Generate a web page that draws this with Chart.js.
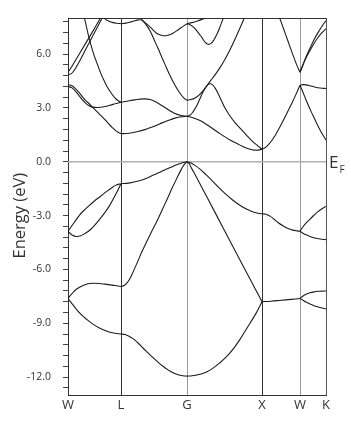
<!DOCTYPE html>
<html>
<head>
<meta charset="utf-8">
<script src="https://cdn.jsdelivr.net/npm/chart.js@4.4.1/dist/chart.umd.min.js"></script>
<style>
  html, body { margin: 0; padding: 0; background: #fff; }
  #wrap { width: 351px; height: 423px; }
</style>
</head>
<body>
<div id="wrap"><canvas id="bandChart" width="351" height="423"></canvas></div>
<script>
// k-path (high symmetry points) and their positions along the path
var kLabels = ["W", "L", "G", "X", "W", "K"];
var kPos = [0, 53, 119, 194, 232, 258];
var yLabelValues = [-12, -9, -6, -3, 0, 3, 6];

// bands, one array per segment of the path: [k, energy (eV)]
// W -> L
var wl_v1 = [[0,-7.62],[6,-8.05],[12,-8.45],[19,-8.8],[25,-9.05],[31,-9.25],[37,-9.4],[42,-9.5],[47,-9.56],[53,-9.6]];
var wl_v2 = [[0,-7.62],[4,-7.35],[8,-7.12],[14,-6.92],[20,-6.8],[25,-6.77],[31,-6.78],[37,-6.82],[47,-6.9],[53,-6.95]];
var wl_v3 = [[0,-3.87],[4,-4.08],[8,-4.16],[12,-4.14],[17,-4.0],[22,-3.8],[27,-3.52],[32,-3.18],[37,-2.82],[42,-2.4],[48,-1.78],[53,-1.22]];
var wl_v4 = [[0,-3.87],[6,-3.4],[12,-2.94],[17,-2.65],[22,-2.4],[27,-2.16],[32,-1.95],[37,-1.72],[42,-1.52],[48,-1.3],[53,-1.22]];
var wl_c1 = [[0,4.3],[4,4.24],[8,4.05],[12,3.8],[17,3.45],[21,3.25],[25,3.02],[29,2.8],[34,2.52],[39,2.22],[44,1.92],[49,1.68],[53,1.57]];
var wl_c2 = [[0,4.2],[4,4.12],[8,3.9],[12,3.62],[17,3.3],[21,3.13],[25,3.05],[30,3.03],[36,3.07],[42,3.15],[48,3.25],[53,3.32]];
var wl_c3 = [[15,8.3],[17,7.88],[20,7.15],[23,6.5],[26,5.95],[29,5.5],[32,5.05],[35,4.65],[39,4.2],[43,3.85],[48,3.5],[53,3.32]];
var wl_c4 = [[0,4.99],[4,5.33],[8,5.7],[16,6.45],[24,7.2],[32,7.97],[35,8.25]];
var wl_c5 = [[0,4.87],[3,4.9],[6,5.08],[10,5.45],[18,6.3],[26,7.15],[34,8.0],[37,8.3]];
var wl_c6 = [[33,8.3],[37,7.97],[41,7.84],[45,7.76],[49,7.72],[53,7.7]];
// L -> G
var lg_v1 = [[53,-9.6],[57,-9.63],[61,-9.72],[65,-9.86],[70,-10.1],[75,-10.38],[80,-10.65],[85,-10.92],[90,-11.17],[95,-11.4],[100,-11.6],[105,-11.76],[110,-11.87],[115,-11.93],[119,-11.95]];
var lg_v2 = [[53,-6.95],[56,-6.9],[59,-6.75],[62,-6.5],[65,-6.15],[69,-5.65],[74,-5.0],[79,-4.42],[84,-3.85],[89,-3.3],[94,-2.7],[99,-2.1],[104,-1.48],[109,-0.9],[113,-0.45],[116,-0.17],[119,0]];
var lg_v3 = [[53,-1.22],[58,-1.2],[63,-1.16],[68,-1.1],[73,-1.03],[78,-0.93],[83,-0.8],[88,-0.68],[93,-0.55],[98,-0.42],[103,-0.3],[108,-0.18],[113,-0.08],[119,0]];
var lg_c1 = [[53,1.57],[58,1.58],[64,1.62],[70,1.69],[76,1.78],[82,1.9],[88,2.03],[94,2.17],[100,2.3],[106,2.42],[112,2.5],[119,2.54]];
var lg_c2 = [[53,3.32],[59,3.38],[65,3.44],[71,3.49],[77,3.51],[82,3.47],[87,3.36],[92,3.2],[97,3.03],[102,2.85],[107,2.69],[113,2.58],[119,2.54]];
var lg_c3 = [[53,7.7],[58,7.73],[63,7.8],[68,7.88],[72,7.92],[75,7.85],[78,7.65],[82,7.3],[87,6.7],[92,6.07],[97,5.43],[102,4.81],[107,4.27],[112,3.82],[116,3.55],[119,3.43]];
var lg_c4 = [[72,8.3],[74,7.92],[78,7.72],[82,7.52],[86,7.3],[90,7.12],[95,7.03],[100,7.06],[105,7.17],[110,7.35],[115,7.55],[119,7.7]];
// G -> X
var gx_v1 = [[119,-11.95],[124,-11.93],[129,-11.88],[134,-11.81],[139,-11.7],[145,-11.5],[152,-11.2],[157,-10.95],[162,-10.65],[167,-10.3],[172,-9.9],[177,-9.45],[182,-9.0],[188,-8.45],[194,-7.8]];
var gx_v2 = [[119,0],[121,-0.08],[123,-0.3],[126,-0.6],[133,-1.34],[140,-2.08],[150,-3.14],[160,-4.2],[170,-5.26],[180,-6.32],[187,-7.06],[194,-7.8]];
var gx_v3 = [[119,0],[123,-0.07],[127,-0.2],[132,-0.41],[138,-0.72],[145,-1.1],[152,-1.5],[158,-1.82],[164,-2.1],[170,-2.35],[176,-2.56],[182,-2.72],[188,-2.84],[194,-2.9]];
var gx_c1 = [[119,2.54],[125,2.46],[132,2.3],[137,2.14],[142,1.95],[147,1.76],[152,1.57],[157,1.39],[162,1.22],[167,1.07],[172,0.93],[177,0.8],[182,0.7],[186,0.65],[190,0.65],[194,0.7]];
var gx_c2 = [[119,2.54],[122,2.6],[125,2.78],[128,3.05],[131,3.4],[134,3.78],[137,4.1],[140,4.3],[142,4.35],[144,4.32],[147,4.12],[150,3.82],[153,3.46],[157,3.0],[162,2.55],[167,2.18],[172,1.88],[178,1.52],[184,1.17],[189,0.93],[194,0.7]];
var gx_c3 = [[119,3.43],[123,3.47],[127,3.56],[131,3.72],[135,3.95],[139,4.25],[143,4.55],[147,4.85],[152,5.25],[157,5.72],[162,6.25],[168,6.96],[175,7.85],[178,8.3]];
var gx_c4 = [[119,7.7],[124,7.76],[129,7.84],[134,7.94],[138,8.05],[142,8.2]];
var gx_c5 = [[119,7.7],[122,7.64],[126,7.48],[130,7.22],[134,6.92],[137,6.68],[140,6.55],[143,6.6],[146,6.8],[149,7.12],[152,7.52],[155,7.97],[157,8.3]];
// X -> W
var xw_v1 = [[194,-7.8],[203,-7.77],[213,-7.72],[223,-7.67],[232,-7.62]];
var xw_v3 = [[194,-2.9],[198,-2.92],[202,-3.03],[206,-3.2],[210,-3.38],[215,-3.57],[220,-3.72],[225,-3.81],[229,-3.85],[232,-3.87]];
var xw_c1 = [[194,0.7],[197,0.78],[200,0.93],[204,1.2],[208,1.55],[212,1.95],[216,2.38],[220,2.83],[224,3.28],[228,3.76],[232,4.27]];
var xw_c3 = [[210,8.3],[212,7.97],[216,7.35],[220,6.72],[224,6.1],[228,5.5],[232,4.99]];
// W -> K
var wk_v1 = [[232,-7.62],[235,-7.72],[238,-7.82],[242,-7.93],[246,-8.02],[250,-8.09],[254,-8.15],[258,-8.2]];
var wk_v2 = [[232,-7.62],[235,-7.48],[238,-7.38],[242,-7.3],[246,-7.25],[250,-7.22],[254,-7.21],[258,-7.2]];
var wk_v3 = [[232,-3.87],[235,-3.98],[238,-4.07],[242,-4.16],[246,-4.23],[250,-4.28],[254,-4.32],[258,-4.34]];
var wk_v4 = [[232,-3.87],[235,-3.62],[238,-3.42],[242,-3.2],[246,-2.98],[250,-2.78],[254,-2.62],[258,-2.49]];
var wk_c1 = [[232,4.27],[236,3.73],[240,3.19],[244,2.7],[249,2.11],[253,1.68],[258,1.21]];
var wk_c2 = [[232,4.27],[235,4.3],[238,4.29],[242,4.24],[246,4.18],[250,4.13],[254,4.1],[258,4.09]];
var wk_c3 = [[232,4.99],[235,5.42],[238,5.84],[242,6.33],[246,6.8],[250,7.2],[254,7.56],[258,7.88]];
var wk_c4 = [[232,4.99],[235,5.4],[238,5.78],[242,6.2],[246,6.6],[250,6.93],[254,7.2],[258,7.43]];

var fermiLevel = 0;
var yTitle = "Energy (eV)";

var segments = [
	wl_v1, wl_v2, wl_v3, wl_v4, wl_c1, wl_c2, wl_c3, wl_c4, wl_c5, wl_c6,
	lg_v1, lg_v2, lg_v3, lg_c1, lg_c2, lg_c3, lg_c4,
	gx_v1, gx_v2, gx_v3, gx_c1, gx_c2, gx_c3, gx_c4, gx_c5,
	xw_v1, xw_v3, xw_c1, xw_c3,
	wk_v1, wk_v2, wk_v3, wk_v4, wk_c1, wk_c2, wk_c3, wk_c4
];

Chart.defaults.font.family = "'Open Sans', 'DejaVu Sans', sans-serif";
Chart.defaults.color = "#333";

function toPoints(seg) {
	return seg.map(function (p) {
		return { x: p[0], y: p[1] };
	});
}

var datasets = [];

// Fermi level line
datasets.push({
	data: [{ x: kPos[0], y: fermiLevel }, { x: kPos[kPos.length - 1], y: fermiLevel }],
	borderColor: "#b0b0b0",
	borderWidth: 1.5,
	pointRadius: 0,
	order: 2,
});

segments.forEach(function (seg) {
	datasets.push({
		data: toPoints(seg),
		borderColor: "#1c1c1c",
		borderWidth: 1.1,
		pointRadius: 0,
		tension: 0.4,
		order: 1,
	});
});

var kLineColors = ["#333", "#333", "#999", "#333", "#999", "#555"];

// E_F label at the right of the plot, and the rotated axis title
var extraText = {
	id: "extraText",
	afterDraw: function (chart) {
		var ctx = chart.ctx;
		var y = chart.scales.y.getPixelForValue(fermiLevel);
		var x = chart.chartArea.right + 3;
		ctx.save();
		ctx.fillStyle = "#333";
		ctx.textBaseline = "alphabetic";
		ctx.font = "17px 'Open Sans', sans-serif";
		ctx.fillText("E", x, y + 6);
		var w = ctx.measureText("E").width;
		ctx.font = "10px 'Open Sans', sans-serif";
		ctx.fillText("F", x + w + 1, y + 11);
		ctx.restore();

		ctx.save();
		ctx.translate(20, chart.scales.y.getPixelForValue(-3));
		ctx.rotate(-Math.PI / 2);
		ctx.textAlign = "center";
		ctx.textBaseline = "middle";
		ctx.fillStyle = "#333";
		ctx.font = "16.5px 'Open Sans', sans-serif";
		ctx.fillText(yTitle, 0, 0);
		ctx.restore();
	},
};

var bandChart = new Chart(document.getElementById("bandChart"), {
	type: "line",
	data: { datasets: datasets },
	options: {
		responsive: false,
		animation: false,
		layout: { padding: { top: 8, right: 25, left: 0, bottom: 0 } },
		plugins: {
			legend: { display: false },
			tooltip: { enabled: false },
		},
		scales: {
			x: {
				type: "linear",
				min: kPos[0],
				max: kPos[kPos.length - 1],
				afterBuildTicks: function (scale) {
					scale.ticks = kPos.map(function (v) {
						return { value: v };
					});
				},
				afterFit: function (scale) {
					scale.height = 28;
				},
				ticks: {
					autoSkip: false,
					maxRotation: 0,
					padding: 2,
					font: { size: 13 },
					color: "#333",
					callback: function (value, index) {
						return kLabels[index];
					},
				},
				grid: {
					drawTicks: false,
					lineWidth: 1,
					color: function (ctx) {
						return kLineColors[ctx.index] || "#333";
					},
				},
				border: { display: true, color: "#333", width: 1 },
			},
			top: {
				type: "linear",
				position: "top",
				min: kPos[0],
				max: kPos[kPos.length - 1],
				ticks: { display: false },
				grid: { display: false },
				border: { display: true, color: "#333", width: 1 },
				afterFit: function (scale) {
					scale.height = 0;
				},
			},
			y: {
				type: "linear",
				min: -13,
				max: 8,
				afterBuildTicks: function (scale) {
					var t = [];
					for (var i = -21; i <= 13; i++) {
						t.push({ value: Math.round(i * 0.6 * 10) / 10 });
					}
					scale.ticks = t;
				},
				afterFit: function (scale) {
					scale.width = 68;
				},
				ticks: {
					autoSkip: false,
					padding: 12,
					font: { size: 10.5 },
					color: "#333",
					callback: function (value) {
						return yLabelValues.indexOf(value) >= 0 ? value.toFixed(1) : "";
					},
				},
				grid: {
					drawOnChartArea: false,
					drawTicks: true,
					tickLength: 5,
					color: "#444",
				},
				border: { display: true, color: "#333", width: 1 },
			},
		},
	},
	plugins: [extraText],
});
</script>
</body>
</html>
